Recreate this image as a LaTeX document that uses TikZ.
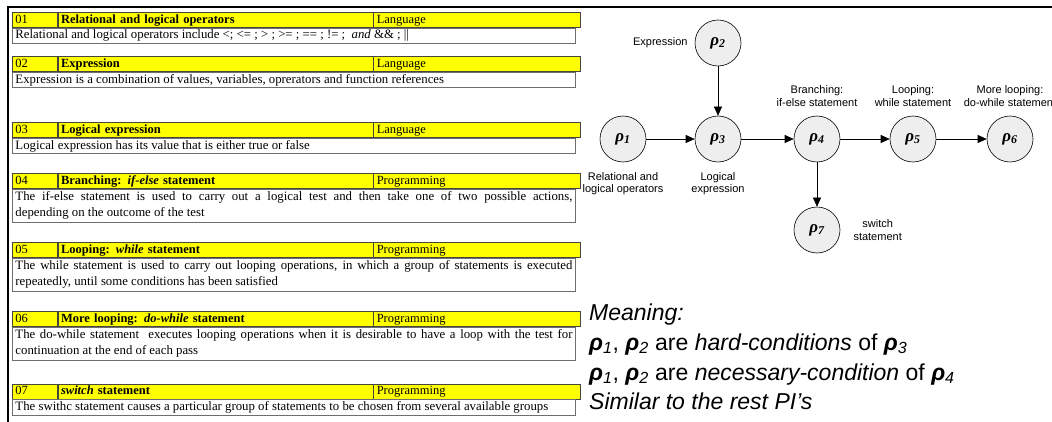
\documentclass[tikz,border=0pt]{standalone}
\usepackage{fontspec}
\setmainfont{Liberation Serif}
\newfontfamily\labelfont{Liberation Sans}
\usepackage{tikz}
\usetikzlibrary{arrows.meta,positioning}
\definecolor{cellyellow}{RGB}{255,255,0}
\definecolor{cellline}{RGB}{70,70,60}
\definecolor{descline}{RGB}{110,110,110}
\definecolor{nodegray}{RGB}{238,238,238}

\tikzset{
  hdrcell/.style = {
    draw        = cellline,
    line width  = 0.7pt,
    fill        = cellyellow,
    inner xsep  = 3pt,
    inner ysep  = 0pt,
    text height = 9.5pt,
    text depth  = 3pt,
    minimum height = 15pt,
    align       = left,
    anchor      = north west,
    font        = \fontsize{12.5}{14}\selectfont
  },
  desccell/.style = {
    draw        = descline,
    line width  = 0.9pt,
    fill        = white,
    inner xsep  = 3pt,
    inner ysep  = 1pt,
    text width  = 557pt,
    align       = justify,
    anchor      = north west,
    font        = \fontsize{12.8}{16}\selectfont
  },
  pinode/.style = {
    circle,
    draw        = black,
    line width  = 0.6pt,
    fill        = nodegray,
    minimum size = 46pt,
    inner sep   = 0pt,
    font        = \fontsize{17}{17}\selectfont\bfseries\itshape
  },
  pilabel/.style = {
    align       = center,
    inner sep   = 1pt,
    font        = \labelfont\fontsize{11}{12.5}\selectfont
  },
  piarrow/.style = {
    -{Triangle[length=9pt,width=8pt]},
    line width  = 0.6pt
  },
  legendline/.style = {
    anchor      = base west,
    inner sep   = 0pt,
    font        = \labelfont\fontsize{23}{27}\selectfont
  }
}

% one block of the table: top y, number, title, kind, description, description height
\newcommand{\pirow}[6]{
  \node[hdrcell, text width=39pt]  (n#2) at (12,#1) {#2};
  \node[hdrcell, text width=309pt, anchor=north west] (t#2) at (n#2.north east) {\bfseries #3};
  \node[hdrcell, text width=201pt, anchor=north west] (k#2) at (t#2.north east) {#4};
  \node[desccell, minimum height=#6pt, anchor=north west] (d#2) at (n#2.south west) {#5};
}

\newcommand{\rhosub}[1]{{\bfseries\itshape ρ}\textsubscript{\itshape #1}}

\begin{document}
\begin{tikzpicture}[x=1pt, y=-1pt]
  \useasboundingbox (0,0) rectangle (1052,422);
  \fill[white] (0,0) rectangle (1052,422);

  \draw[line width=2.5pt] (6.75,7) -- (1052,7);
  \draw[line width=2.5pt] (8,5.75) -- (8,422);

  \pirow{12}{01}{Relational and logical operators}{Language}
    {Relational and logical operators include <; <= ; > ; >= ; == ; != ; \ \textit{and} \&\& ; ||}{15.5}
  \pirow{56}{02}{Expression}{Language}
    {Expression is a combination of values, variables, oprerators and function references}{15.5}
  \pirow{122}{03}{Logical expression}{Language}
    {Logical expression has its value that is either true or false}{15.5}
  \pirow{173}{04}{Branching: \textit{if-else} statement}{Programming}
    {The if-else statement is used to carry out a logical test and then take one of two possible actions,\linebreak depending on the outcome of the test}{33}
  \pirow{242}{05}{Looping: \textit{while} statement}{Programming}
    {The while statement is used to carry out looping operations, in which a group of statements is executed\linebreak repeatedly, until some conditions has been satisfied}{33}
  \pirow{311}{06}{More looping: \textit{do-while} statement}{Programming}
    {The do-while statement \ executes looping operations when it is desirable to have a loop with the test for\linebreak continuation at the end of each pass}{33}
  \pirow{383.5}{07}{\textit{switch} statement}{Programming}
    {The swithc statement causes a particular group of statements to be chosen from several available groups}{15.5}

  \node[pinode] (p2) at (718,43)  {ρ\textsubscript{2}};
  \node[pinode] (p1) at (623,139) {ρ\textsubscript{1}};
  \node[pinode] (p3) at (718,139) {ρ\textsubscript{3}};
  \node[pinode] (p4) at (817,139) {ρ\textsubscript{4}};
  \node[pinode] (p5) at (913,139) {ρ\textsubscript{5}};
  \node[pinode] (p6) at (1010,139) {ρ\textsubscript{6}};
  \node[pinode] (p7) at (817,230) {ρ\textsubscript{7}};

  \node[pilabel, left=6pt of p2]  (l2) {Expression};
  \node[pilabel, below=9pt of p1] (l1) {Relational and\\logical operators};
  \node[pilabel, below=9pt of p3] (l3) {Logical\\expression};
  \node[pilabel, above=8pt of p4] (l4) {Branching:\\if-else statement};
  \node[pilabel, above=8pt of p5] (l5) {Looping:\\while statement};
  \node[pilabel, above=8pt of p6] (l6) {More looping:\\do-while statement};
  \node[pilabel, right=12pt of p7] (l7) {switch\\statement};

  \draw[piarrow] (p2) -- (p3);
  \draw[piarrow] (p1) -- (p3);
  \draw[piarrow] (p3) -- (p4);
  \draw[piarrow] (p4) -- (p5);
  \draw[piarrow] (p5) -- (p6);
  \draw[piarrow] (p4) -- (p7);

  \node[legendline] (m0) at (589,320) {\itshape Meaning:};
  \node[legendline] (m1) at (589,350) {\rhosub{1}, \rhosub{2} are \textit{hard-conditions} of \rhosub{3}};
  \node[legendline] (m2) at (589,380) {\rhosub{1}, \rhosub{2} are \textit{necessary-condition} of \rhosub{4}};
  \node[legendline] (m3) at (589,409) {\itshape Similar to the rest PI’s};
\end{tikzpicture}
\end{document}
